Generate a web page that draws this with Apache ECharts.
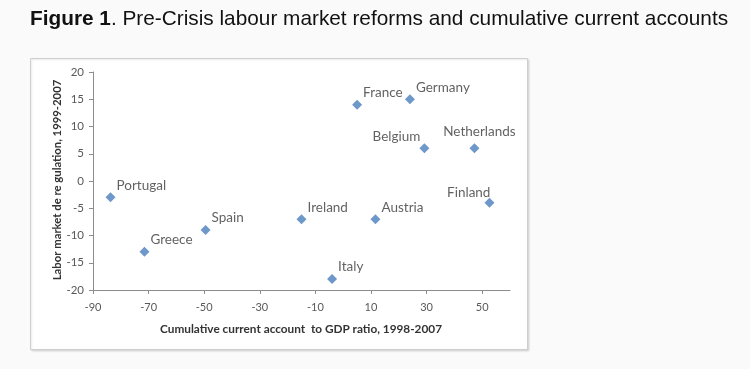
<!DOCTYPE html>
<html>
<head>
<meta charset="utf-8">
<script src="https://cdn.jsdelivr.net/npm/echarts@6/dist/echarts.min.js"></script>
<style>
html,body{margin:0;padding:0;background:#fafafa;}
#c{width:750px;height:369px;}
</style>
</head>
<body>
<div id="c"></div>
<script>
const countries = ['Portugal','Greece','Spain','Ireland','Italy','France','Germany','Austria','Belgium','Netherlands','Finland'];
const currentAccount = [-83.7,-71.5,-49.5,-15,-4,5,24,11.6,29.2,47.2,52.6];
const deregulation = [-3,-13,-9,-7,-18,14,15,-7,6,6,-4];
const xTicks = [-90,-70,-50,-30,-10,10,30,50];
const yTicks = [-20,-15,-10,-5,0,5,10,15,20];

const labelPlacement = {
  Belgium: {align:'right', offset:[-4,-12]},
  Netherlands: {align:'center', offset:[5,-17]},
  Finland: {align:'right', offset:[1,-10]}
};

const chart = echarts.init(document.getElementById('c'));
const data = countries.map((n,i)=>{
  const p = labelPlacement[n] || {align:'left', offset:[6,-12]};
  return {name:n, value:[currentAccount[i], deregulation[i]],
    label:{align:p.align, offset:p.offset}};
});
chart.setOption({
  backgroundColor:'#fafafa',
  animation:false,
  title:{
    left:25, top:4,
    text:'{b|Figure 1}{n|. Pre-Crisis labour market reforms and cumulative current accounts}',
    textStyle:{fontWeight:'normal',rich:{
      b:{fontFamily:'Liberation Sans',fontSize:20.8,fontWeight:'bold',color:'#111'},
      n:{fontFamily:'Liberation Sans',fontSize:20.8,fontWeight:'normal',color:'#111'}
    }}
  },
  graphic:[{
    type:'rect', z:-10, silent:true,
    shape:{x:30.5,y:58.5,width:497,height:291},
    style:{fill:'#ffffff',stroke:'#cfcfcf',lineWidth:1,shadowColor:'rgba(0,0,0,0.12)',shadowBlur:2,shadowOffsetX:1,shadowOffsetY:1}
  },{
    type:'text', x:301, y:329,
    style:{text:'Cumulative current account  to GDP ratio, 1998-2007',fontFamily:'Lato',fontSize:11.8,fontWeight:'bold',fill:'#333',align:'center',verticalAlign:'middle'}
  },{
    type:'text', x:57, y:180, rotation:Math.PI/2,
    style:{text:'Labor market de re gulation, 1999-2007',fontFamily:'Lato',fontSize:11.3,fontWeight:'bold',fill:'#333',align:'center',verticalAlign:'middle'}
  }],
  grid:{left:93,right:240,top:72,bottom:79,containLabel:false},
  xAxis:{
    type:'value', min:-90, max:60, interval:10,
    axisLine:{show:true,onZero:false,lineStyle:{color:'#8c8c8c',width:1}},
    axisTick:{show:true,length:4,customValues:xTicks,lineStyle:{color:'#8c8c8c'}},
    axisLabel:{customValues:xTicks,fontFamily:'Lato',fontSize:11,color:'#595959',margin:12},
    splitLine:{show:false}
  },
  yAxis:{
    type:'value', min:-20, max:20, interval:5,
    axisLine:{show:true,onZero:false,lineStyle:{color:'#8c8c8c',width:1}},
    axisTick:{show:true,length:4,lineStyle:{color:'#8c8c8c'}},
    axisLabel:{fontFamily:'Lato',fontSize:11.5,color:'#595959',margin:9},
    splitLine:{show:false}
  },
  series:[{
    type:'scatter',
    symbol:'diamond',
    symbolSize:10,
    itemStyle:{color:'#4a7ebb'},
    label:{show:true,position:'inside',formatter:'{b}',verticalAlign:'middle',
      fontFamily:'Lato',fontSize:13.5,color:'#3a3a3a'},
    data:data
  }]
});
</script>
</body>
</html>
